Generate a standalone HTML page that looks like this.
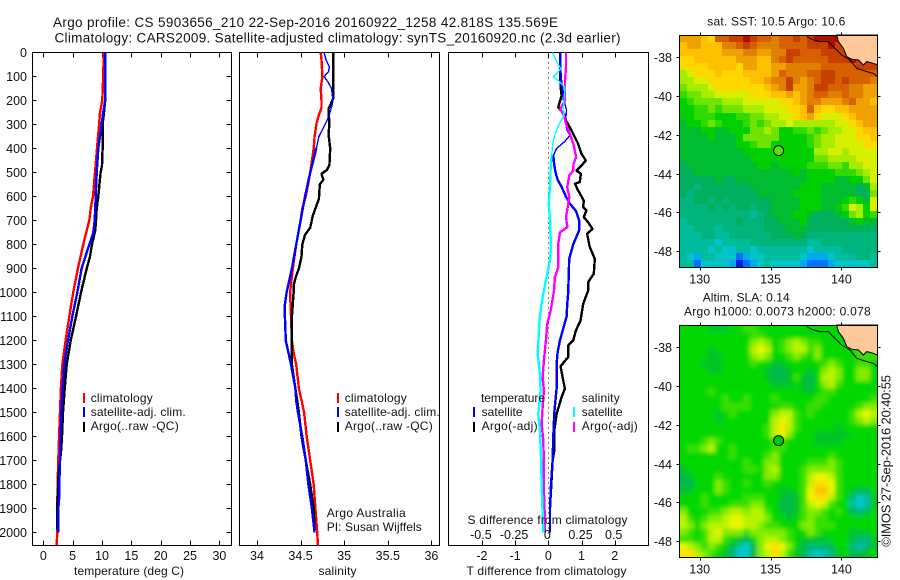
<!DOCTYPE html>
<html lang="en">
<head>
<meta charset="utf-8">
<title>Argo profile CS 5903656_210</title>
<style>
html,body{margin:0;padding:0;background:#fff;}
svg{display:block;font-family:"Liberation Sans",sans-serif;font-size:12px;fill:#000;}
text{fill:#111;}
</style>
</head>
<body>
<svg id="chart" width="900" height="580" viewBox="0 0 900 580" xmlns="http://www.w3.org/2000/svg">
<defs>
<filter id="sla-smooth" filterUnits="userSpaceOnUse" x="660" y="300" width="240" height="280"><feGaussianBlur stdDeviation="2.2"/></filter>
<clipPath id="sla-clip"><rect x="680" y="325" width="198" height="233"/></clipPath>
</defs>
<rect x="0" y="0" width="900" height="580" fill="#fff"/>
<text x="53" y="27" font-size="13.5" textLength="505" lengthAdjust="spacing">Argo profile: CS 5903656_210 22-Sep-2016 20160922_1258 42.818S 135.569E</text>
<text x="54.5" y="42.5" font-size="13.5" textLength="566" lengthAdjust="spacing">Climatology: CARS2009. Satellite-adjusted climatology: synTS_20160920.nc (2.3d earlier)</text>

<g id="layer-cells"></g>
<g id="layer-marks"></g>

<text x="74" y="575" textLength="110" lengthAdjust="spacing">temperature (deg C)</text>
<text x="318.5" y="575" textLength="38" lengthAdjust="spacing">salinity</text>
<text x="466.5" y="575" textLength="160" lengthAdjust="spacing">T difference from climatology</text>
<text x="467.5" y="524" textLength="160" lengthAdjust="spacing">S difference from climatology</text>

<g>
<rect x="83" y="393" width="2" height="10" fill="#f00"/>
<rect x="83" y="407" width="2" height="10" fill="#00f"/>
<rect x="83" y="422" width="2" height="10" fill="#000"/>
<text x="90.7" y="402" textLength="62" lengthAdjust="spacing">climatology</text>
<text x="90.7" y="416" textLength="95" lengthAdjust="spacing">satellite-adj. clim.</text>
<text x="90.7" y="430" textLength="88" lengthAdjust="spacing">Argo(..raw -QC)</text>
</g>
<g>
<rect x="337" y="393" width="2" height="10" fill="#f00"/>
<rect x="337" y="407" width="2" height="10" fill="#00f"/>
<rect x="337" y="422" width="2" height="10" fill="#000"/>
<text x="344.7" y="402" textLength="62" lengthAdjust="spacing">climatology</text>
<text x="344.7" y="416" textLength="95" lengthAdjust="spacing">satellite-adj. clim.</text>
<text x="344.7" y="430" textLength="88" lengthAdjust="spacing">Argo(..raw -QC)</text>
<text x="326.7" y="517" textLength="79" lengthAdjust="spacing">Argo Australia</text>
<text x="326.7" y="531" textLength="95" lengthAdjust="spacing">PI: Susan Wijffels</text>
</g>
<g>
<text x="481" y="402" textLength="64" lengthAdjust="spacing">temperature</text>
<text x="581.7" y="402" textLength="38" lengthAdjust="spacing">salinity</text>
<rect x="473" y="407" width="2" height="10" fill="#00f"/>
<rect x="473" y="422" width="2" height="10" fill="#000"/>
<rect x="573" y="407" width="2" height="10" fill="#0ff"/>
<rect x="573" y="422" width="2" height="10" fill="#f0f"/>
<text x="481.6" y="416" textLength="41" lengthAdjust="spacing">satellite</text>
<text x="481.6" y="430" textLength="56" lengthAdjust="spacing">Argo(-adj)</text>
<text x="581.7" y="416" textLength="41" lengthAdjust="spacing">satellite</text>
<text x="581.7" y="430" textLength="56" lengthAdjust="spacing">Argo(-adj)</text>
</g>

<text x="707.3" y="25.7" textLength="138" lengthAdjust="spacing">sat. SST: 10.5 Argo: 10.6</text>
<text x="702.7" y="301.7" textLength="87" lengthAdjust="spacing">Altim. SLA: 0.14</text>
<text x="684" y="315.7" textLength="186.7" lengthAdjust="spacing">Argo h1000: 0.0073 h2000: 0.078</text>
<text x="0" y="0" transform="translate(890.5,546.7) rotate(-90)" font-size="13" textLength="171.7" lengthAdjust="spacing">©IMOS 27-Sep-2016 20:40:55</text>
</svg>

<script>
// ---- Axis tick values ----
const depthTicks = [0,100,200,300,400,500,600,700,800,900,1000,1100,1200,1300,1400,1500,1600,1700,1800,1900,2000];
const tempTicks = [0,5,10,15,20,25,30];
const salTicks = [34,34.5,35,35.5,36];
const tDiffTicks = [-2,-1,0,1,2];
const sDiffTicks = [-0.5,-0.25,0,0.25,0.5];
const lonTicks = [130,135,140];
const latTicks = [-38,-40,-42,-44,-46,-48];

// ---- Temperature panel series ----
const climTempDepth = [0,100,200,250,300,400,500,600,650,700,800,900,1000,1100,1200,1300,1400,1500,1600,1700,1800,1900,2000,2054];
const climTemp = [10.3,10.2,10.05,9.66,9.5,9.15,8.8,8.47,8.07,7.84,6.8,5.9,5.1,4.43,3.8,3.24,3.0,2.84,2.7,2.56,2.44,2.39,2.39,2.27];
const satTempDepth = [0,100,200,250,300,400,500,600,700,750,800,900,1000,1100,1200,1300,1400,1500,1600,1700,1800,1850,1900,2000];
const satTemp = [10.57,10.57,10.57,10.2,9.94,9.37,9.09,8.92,8.75,8.52,7.84,6.53,5.8,4.94,4.2,3.58,3.3,3.07,2.95,2.84,2.73,2.73,2.56,2.56];
const argoTempDepth = [0,190,250,300,320,400,470,500,550,600,650,700,740,800,850,900,1000,1100,1200,1300,1400,1500,1600,1670,1750,1850,1900,1990];
const argoTemp = [10.57,10.57,10.34,10.1,10.1,10.1,10,9.77,9.55,9.37,9.09,8.98,8.86,8.3,7.95,7.39,6.42,5.57,4.66,3.98,3.64,3.35,3.18,3.0,2.6,2.44,2.39,2.39];

// ---- Salinity panel series ----
const climSalDepth = [0,30,100,150,200,230,260,300,350,400,500,600,650,700,800,900,1000,1100,1200,1250,1300,1400,1500,1600,1700,1800,1900,2000,2054];
const climSal = [34.73,34.74,34.75,34.73,34.74,34.74,34.71,34.68,34.66,34.65,34.61,34.56,34.52,34.5,34.45,34.41,34.38,34.39,34.4,34.42,34.45,34.48,34.54,34.57,34.61,34.65,34.67,34.69,34.7];
const satSalDepth = [0,30,60,80,100,120,150,200,220,270,300,350,400,500,600,700,800,900,1000,1050,1100,1200,1250,1300,1400,1450,1500,1600,1700,1800,1900,2000];
const satSal = [34.77,34.79,34.83,34.82,34.77,34.81,34.855,34.87,34.86,34.82,34.78,34.71,34.68,34.61,34.55,34.5,34.45,34.4,34.34,34.32,34.32,34.33,34.36,34.39,34.44,34.45,34.47,34.52,34.56,34.59,34.63,34.66];
const argoSalDepth = [0,100,190,220,235,300,340,400,470,490,505,530,550,610,640,680,730,760,800,850,900,930,970,1000,1100,1200,1300,1350,1400,1500,1600,1700,1800,1900,1990];
const argoSal = [34.875,34.875,34.875,34.84,34.82,34.83,34.82,34.84,34.83,34.8,34.74,34.76,34.72,34.71,34.68,34.64,34.61,34.55,34.52,34.51,34.48,34.45,34.42,34.42,34.4,34.4,34.4,34.42,34.44,34.48,34.51,34.56,34.61,34.65,34.66];

// ---- Difference panel series ----
const satTDiffDepth = [0,100,200,240,270,290,320,345,370,400,430,470,500,530,560,600,630,660,700,740,800,860,1000,1050,1100,1200,1250,1300,1400,1500,1600,1700,1800,1900,2000];
const satTDiff = [0.36,0.37,0.47,0.55,0.53,0.53,0.55,0.65,0.5,0.25,0.15,0.18,0.22,0.28,0.4,0.53,0.65,0.83,0.93,0.93,0.75,0.63,0.6,0.57,0.55,0.35,0.28,0.25,0.25,0.18,0.15,0.13,0.08,0.05,0.05];
const argoTDiffDepth = [0,100,144,179,228,262,283,325,381,422,450,471,492,505,540,547,575,617,644,658,686,707,735,756,811,860,922,957,992,1047,1117,1158,1200,1221,1269,1290,1308,1353,1401,1436,1506,1575,1658,1700,1900,2000];
const argoTDiff = [0.36,0.36,0.37,0.4,0.3,0.5,0.53,0.7,0.9,1.0,1.13,1.0,0.85,0.98,0.95,0.8,0.9,1.07,1.05,1.15,1.07,1.2,1.33,1.17,1.25,1.4,1.37,1.2,1.2,1.05,0.97,0.83,0.75,0.6,0.6,0.47,0.37,0.43,0.5,0.4,0.25,0.18,0.18,0.13,0.05,0.05];
const satSDiffDepth = [0,33,68,103,117,144,186,228,262,297,339,381,436,478,561,631,700,811,867,922,992,1061,1131,1256,1339,1408,1506,1575,1686,1825,2000];
const satSDiff = [0.033,0.058,0.093,0.038,0.075,0.126,0.12,0.113,0.118,0.083,0.05,0.033,0.025,0.018,0.013,0.003,0.013,0.02,0.013,-0.008,-0.033,-0.055,-0.068,-0.08,-0.063,-0.058,-0.075,-0.063,-0.055,-0.048,-0.038];
const argoSDiffDepth = [0,61,117,158,200,235,262,297,339,381,436,464,492,512,561,603,644,686,728,749,797,894,936,992,1075,1131,1200,1283,1353,1408,1478,1547,1617,1714,1825,1964,2000];
const argoSDiff = [0.133,0.133,0.126,0.126,0.126,0.09,0.118,0.133,0.163,0.188,0.21,0.19,0.188,0.158,0.143,0.158,0.146,0.133,0.143,0.088,0.075,0.075,0.05,0.043,0.018,-0.008,-0.018,-0.033,-0.043,-0.033,-0.043,-0.05,-0.038,-0.033,-0.033,-0.025,-0.025];

// ---- Map data ----
const sstLevels = [
[15,15,15,14,13,17,17,18,18,19,18,17,17,16,17,17,18,17,18,19,19,19,19,19,19,19,19,19],
[14,15,15,14,14,14,16,16,17,18,17,16,16,16,17,17,17,17,18,18,18,19,18,18,18,18,18,18],
[14,14,14,14,14,14,15,15,15,16,16,15,15,16,16,18,18,17,17,17,18,18,18,18,19,18,18,18],
[13,13,14,14,14,14,14,14,15,15,15,14,14,16,17,18,17,17,17,17,17,18,18,18,19,18,18,18],
[13,13,13,13,14,14,14,14,13,15,15,14,14,15,15,16,16,16,16,16,17,17,17,17,17,18,18,18],
[11,12,13,13,13,14,13,13,13,14,14,14,14,15,17,16,16,16,17,17,18,18,17,17,17,17,17,17],
[11,11,12,12,13,13,13,13,13,13,14,14,15,16,16,18,16,15,16,17,18,18,17,18,17,17,17,16],
[10,11,11,11,12,13,13,13,13,13,13,13,14,15,16,18,15,15,16,18,18,17,17,17,16,16,15,15],
[9,10,10,11,11,12,12,12,12,12,13,13,13,14,14,15,14,15,16,17,17,16,16,17,16,16,15,15],
[8,9,10,10,10,10,11,11,11,12,12,12,12,12,13,13,14,15,16,16,15,15,15,16,17,15,15,14],
[8,8,9,9,10,9,10,10,10,11,11,11,12,12,12,13,13,14,17,14,13,13,14,14,15,15,15,15],
[8,8,9,9,9,8,8,8,9,9,10,10,11,11,12,12,13,14,15,13,12,12,12,13,14,15,15,15],
[7,8,8,9,10,9,8,8,8,9,10,9,10,11,11,12,11,11,11,11,11,11,12,12,13,14,15,15],
[7,7,7,8,8,7,7,8,8,8,10,10,11,10,8,8,9,9,10,9,10,11,11,12,12,13,14,14],
[7,7,7,7,8,7,7,7,8,10,10,10,10,10,8,8,8,8,9,10,11,11,12,12,12,13,13,14],
[7,7,7,7,7,7,7,7,8,8,9,10,10,8,8,8,8,8,9,10,11,11,12,12,12,12,13,13],
[7,7,7,7,7,7,7,7,7,8,8,8,8,8,8,8,8,8,8,11,11,12,12,11,12,12,12,12],
[7,7,7,7,7,7,7,7,7,7,8,8,8,8,8,8,8,8,8,10,10,11,11,11,11,12,12,12],
[6,7,7,7,7,7,7,7,7,7,7,8,8,7,8,8,8,8,9,9,9,10,10,9,11,11,12,12],
[6,6,7,7,7,7,7,7,7,7,7,7,7,7,7,7,8,7,8,8,8,8,9,9,9,10,11,12],
[6,6,6,6,6,7,6,6,7,7,7,7,7,7,7,7,7,7,8,8,8,8,7,7,8,8,10,12],
[6,6,5,6,6,6,6,6,6,6,7,7,7,7,7,7,7,8,8,8,7,7,7,7,7,6,7,11],
[6,5,6,6,6,6,6,6,6,6,6,7,7,7,7,7,8,8,8,8,7,7,7,7,7,6,6,10],
[5,5,6,6,5,6,5,6,6,6,6,6,6,7,7,7,7,8,8,8,7,7,7,8,9,8,7,12],
[5,5,5,5,6,5,6,5,6,6,5,6,6,7,7,7,7,8,8,8,7,7,8,9,12,11,8,12],
[5,5,5,5,5,5,5,5,5,5,4,5,6,7,7,7,8,8,7,6,6,6,7,8,10,11,8,9],
[4,5,5,5,5,5,5,5,6,5,5,5,6,6,7,7,7,8,6,6,6,6,6,6,7,8,7,7],
[4,4,5,5,5,4,5,5,5,5,5,5,6,6,6,7,7,7,6,6,6,6,6,6,6,6,6,6],
[4,4,4,5,5,4,4,5,5,5,5,5,5,6,6,6,7,6,5,5,5,5,5,5,5,5,5,5],
[4,4,4,4,4,3,4,4,4,4,5,5,5,5,5,5,5,5,4,4,5,5,5,5,5,5,5,5],
[4,4,4,4,3,4,3,3,4,4,3,4,4,4,4,4,4,4,3,4,4,4,4,5,5,5,5,5],
[4,3,2,4,4,3,3,3,1,2,3,3,4,4,4,4,4,3,2,2,2,3,4,4,4,5,5,4],
[4,4,1,3,3,3,3,2,0,1,2,3,4,3,3,3,3,2,1,1,1,2,3,3,3,3,3,4]
];
const slaLevels = [
[8,8,8,8,7,7,7,8,8,9,9,8,8,8,8,8,8,8,8,8,8,8,8,8,8,8,8,8],
[8,8,8,8,8,8,8,8,8,8,9,9,8,8,8,8,8,8,8,8,8,8,8,8,8,8,8,8],
[8,8,8,8,8,8,8,8,8,8,10,11,10,8,9,10,11,10,9,9,8,8,8,8,8,8,8,8],
[8,8,8,8,7,8,8,8,8,8,11,12,11,8,9,10,11,11,9,10,8,8,8,8,8,9,9,8],
[8,8,8,8,7,7,8,8,8,8,10,11,10,8,8,9,10,9,8,10,8,8,8,8,8,9,9,9],
[8,8,8,7,7,7,8,8,8,8,9,8,8,7,7,8,8,8,8,8,9,10,9,8,8,9,9,8],
[8,8,8,8,7,7,8,8,8,8,8,8,7,6,6,7,8,8,7,8,10,11,10,8,8,10,10,8],
[8,8,8,8,8,8,8,8,8,8,8,8,7,6,6,7,9,7,6,8,11,11,10,8,8,10,10,8],
[8,8,8,8,8,8,8,8,8,8,8,8,8,7,7,7,8,7,6,8,10,11,9,8,8,8,8,8],
[8,8,8,8,9,8,8,8,8,8,8,8,8,8,8,8,8,7,7,8,9,9,8,8,8,8,8,8],
[8,8,8,8,8,8,9,8,8,9,8,8,8,9,8,8,8,8,8,9,9,8,8,8,8,8,8,9],
[8,8,8,8,8,8,9,9,9,9,8,8,8,8,9,9,8,8,9,9,8,8,8,8,8,9,10,10],
[8,8,8,8,8,7,8,9,8,8,8,8,8,10,11,11,9,8,9,8,8,8,8,8,9,11,12,11],
[8,8,8,8,8,7,8,8,8,8,8,8,8,11,12,11,9,8,8,8,8,8,8,8,9,10,11,10],
[8,8,8,8,8,8,8,8,8,8,8,8,9,11,13,11,9,8,8,8,8,8,7,8,8,8,8,8],
[8,8,8,8,8,8,8,8,8,8,8,8,9,11,12,10,8,8,8,7,7,7,7,7,8,8,8,8],
[8,8,8,9,10,9,8,8,8,8,8,8,8,9,9,8,8,8,8,7,7,7,7,8,8,8,8,8],
[8,9,9,10,11,8,8,9,8,8,8,8,8,9,9,8,8,8,8,8,8,8,8,8,8,8,8,8],
[8,8,8,8,8,8,8,9,8,8,8,8,9,10,8,8,8,8,8,8,8,9,8,8,8,8,8,8],
[8,8,8,8,8,8,8,8,8,9,8,8,10,10,8,8,8,8,9,9,9,10,9,8,8,8,8,8],
[7,8,8,8,8,8,8,8,8,9,9,8,10,11,8,8,8,9,10,10,10,10,9,8,8,8,8,8],
[6,7,8,8,8,9,8,8,8,8,8,8,10,10,8,8,8,9,11,12,12,11,9,8,8,8,8,8],
[6,6,8,8,8,10,9,8,8,9,8,8,9,8,8,8,8,9,11,13,13,12,9,8,8,8,8,8],
[7,7,8,8,8,10,9,8,8,8,8,8,8,8,7,7,8,9,12,14,14,12,9,8,7,6,6,8],
[8,8,8,9,8,8,8,8,8,9,9,9,8,8,7,6,7,9,12,13,13,11,9,8,5,3,4,7],
[8,8,8,9,8,8,8,9,9,9,10,10,8,8,6,6,7,9,11,12,11,9,8,8,4,3,4,7],
[10,8,8,8,9,9,10,11,11,10,11,11,9,8,7,6,7,9,10,10,9,8,9,8,6,5,6,8],
[11,9,8,9,10,10,11,12,12,11,11,11,10,8,8,7,8,9,10,9,9,8,8,8,8,8,8,8],
[11,10,8,10,11,11,11,12,12,11,11,10,9,9,8,8,8,10,10,9,9,9,8,8,8,8,8,8],
[10,9,8,9,11,12,10,10,10,9,10,10,10,10,10,9,8,8,10,9,8,8,8,8,7,7,7,8],
[9,9,8,9,11,11,9,8,7,6,8,10,11,11,10,9,8,7,7,7,7,8,8,8,6,5,5,7],
[12,11,10,9,10,9,8,6,4,3,6,10,12,13,12,10,8,6,5,5,5,6,8,8,5,4,5,7],
[13,13,11,10,9,8,7,5,3,3,6,10,11,13,11,9,7,6,4,3,4,5,7,8,6,6,7,8]
];
const landLon = [139.67,139.79,140.14,140.38,140.73,141.2,141.55,141.79,142.26,142.55,142.55];
const landLat = [-36.85,-37.19,-37.54,-37.97,-38.1,-38.14,-38.4,-38.22,-38.31,-38.4,-36.85];
const coastLon = [137.55,138.02,138.49,139.08,139.55,140.02,140.61,141.08,141.79,142.26,142.55];
const coastLat = [-36.93,-37.1,-37.19,-37.19,-37.54,-37.88,-38.14,-38.57,-38.74,-38.83,-39.0];
const profileLon = 135.569;
const profileLat = -42.818;
const sstColorScale = ['#0020e0','#0070ff','#00a8f0','#00c4c8','#00bc9c','#00b47c','#00b05c','#00bc30','#00d000','#30dc00','#70e400','#a8ec00','#d8f000','#ffd800','#ffc000','#f0a000','#e08000','#d86000','#c84000','#b01000'];
const slaColorScale = ['#0020e0','#0070ff','#00a8f0','#00c8c8','#00c0a0','#00b878','#00b850','#00c428','#00d800','#38e000','#80ec00','#b8f400','#e8f800','#ffe000','#ffc000','#f0a000','#e08000','#d86000','#c84000','#b01000'];

const NS = 'http://www.w3.org/2000/svg';
const cellLayer = document.getElementById('layer-cells');
const markLayer = document.getElementById('layer-marks');

function make(tag, attrs, parent, txt) {
  const n = document.createElementNS(NS, tag);
  for (const k in attrs) n.setAttribute(k, attrs[k]);
  if (txt !== undefined) n.textContent = txt;
  (parent || markLayer).appendChild(n);
  return n;
}

// ---- Axis functions ----
const yDepth = d => 52.5 + d * 0.24;
const xTemp = t => 43.3 + t * 5.87;
const xSal = s => 257 + (s - 34) * 87.2;
const xTDiff = t => 548.3 + t * 33.2;
const xSDiff = s => 548.3 + s * 132.8;
const xLon = lon => 699.7 + (lon - 130) * 14.17;
const yLatTop = lat => 57.3 + (-38 - lat) * 19.37;
const yLatBottom = lat => 347.3 + (-38 - lat) * 19.37;

const panelTop = 52.5;
const panelBottom = 545.5;

function drawPolyline(depths, values, xf, color, width, seriesName) {
  const pts = values.map((v, i) => xf(v).toFixed(1) + ',' + yDepth(depths[i]).toFixed(1)).join(' ');
  const line = make('polyline', {points: pts, fill: 'none', stroke: color, 'stroke-width': width, 'shape-rendering': 'crispEdges', 'stroke-linejoin': 'round'});
  
  
}

// A series is drawn heavy, with an optional thin stretch between two depths.
function drawSeries(depths, values, xf, color, seriesName, thinFrom, thinTo) {
  if (thinFrom === undefined) {
    drawPolyline(depths, values, xf, color, 2.4, seriesName);
    return;
  }
  const idxA = depths.findIndex(d => d >= thinFrom);
  const idxB = depths.findIndex(d => d >= thinTo);
  if (idxA > 0) drawPolyline(depths.slice(0, idxA + 1), values.slice(0, idxA + 1), xf, color, 2.4, seriesName);
  drawPolyline(depths.slice(idxA, idxB + 1), values.slice(idxA, idxB + 1), xf, color, 1.4, seriesName + '-thin');
  drawPolyline(depths.slice(idxB), values.slice(idxB), xf, color, 2.4, seriesName);
}

function drawPanelFrame(left, right, xTicksList, xf, labelFn, leftTicks) {
  const frame = make('rect', {x: left, y: panelTop, width: right - left, height: panelBottom - panelTop, fill: 'none', stroke: '#000', 'stroke-width': 1, 'shape-rendering': 'crispEdges'});
  
  
  xTicksList.forEach(v => {
    const px = Math.round(xf(v)) + 0.5;
    const topTick = make('line', {x1: px, x2: px, y1: panelTop, y2: panelTop + 5, stroke: '#000', 'shape-rendering': 'crispEdges'});
    
    
    const bottomTick = make('line', {x1: px, x2: px, y1: panelBottom, y2: panelBottom - 5, stroke: '#000', 'shape-rendering': 'crispEdges'});
    
    
    const label = make('text', {x: xf(v), y: 560, 'text-anchor': 'middle', 'font-size': 12.5}, markLayer, labelFn(v));
    
    
  });
  if (leftTicks) {
    depthTicks.forEach(d => {
      const py = Math.round(yDepth(d) - 0.5) + 0.5;
      const lt = make('line', {x1: left, x2: left + 4, y1: py, y2: py, stroke: '#000', 'shape-rendering': 'crispEdges'});
      
      
      const rt = make('line', {x1: right, x2: right - 5, y1: py, y2: py, stroke: '#000', 'shape-rendering': 'crispEdges'});
      
      
      const dl = make('text', {x: 27, y: py + 4.5, 'text-anchor': 'end', 'font-size': 12.5}, markLayer, String(d));
      
      
    });
  }
}

// ---- Profile panels ----
drawPanelFrame(32.5, 231.5, tempTicks, xTemp, v => String(v), true);
drawPanelFrame(239.5, 439.5, salTicks, xSal, v => String(v), false);
drawPanelFrame(448.5, 648.5, tDiffTicks, xTDiff, v => String(v), false);

drawSeries(climTempDepth, climTemp, xTemp, '#f00', 'temperature-climatology-line');
drawSeries(argoTempDepth, argoTemp, xTemp, '#000', 'temperature-argo-line');
drawSeries(satTempDepth, satTemp, xTemp, '#00f', 'temperature-satellite-line');

drawSeries(climSalDepth, climSal, xSal, '#f00', 'salinity-climatology-line');
drawSeries(argoSalDepth, argoSal, xSal, '#000', 'salinity-argo-line');
drawSeries(satSalDepth, satSal, xSal, '#00f', 'salinity-satellite-line', 0, 400);

const zeroLine = make('line', {x1: 548.5, x2: 548.5, y1: panelTop, y2: panelBottom, stroke: '#000', 'stroke-width': 1, 'stroke-dasharray': '1 4', 'shape-rendering': 'crispEdges'});


drawSeries(argoTDiffDepth, argoTDiff, xTDiff, '#000', 't-difference-argo-line');
drawSeries(satTDiffDepth, satTDiff, xTDiff, '#00f', 't-difference-satellite-line', 200, 430);
drawSeries(argoSDiffDepth, argoSDiff, xSDiff, '#f0f', 's-difference-argo-line');
drawSeries(satSDiffDepth, satSDiff, xSDiff, '#0ff', 's-difference-satellite-line', 0, 430);

sDiffTicks.forEach(v => {
  const lab = make('text', {x: xSDiff(v) - 1, y: 539, 'text-anchor': 'middle', 'font-size': 12.5}, markLayer, String(v));
  
  
});

// ---- Maps ----
const mapLeft = 679.5, mapRight = 877.5;
const lonAtLeft = 130 + (mapLeft - 699.7) / 14.17;
const lonAtRight = 130 + (mapRight - 699.7) / 14.17;
const latNorth = -36.85, latSouth = -48.85;

function drawMap(levels, yLat, fillColor, cellName, scale, smooth) {
  const rows = levels.length;
  const dLat = (latSouth - latNorth) / rows;
  let cellParent = cellLayer;
  if (smooth) {
    const clipGroup = make('g', {'clip-path': 'url(#sla-clip)'}, cellLayer);
    
    
    cellParent = make('g', {filter: 'url(#sla-smooth)'}, clipGroup);
    
    
  }
  const pad = smooth ? 9 : 0;
  levels.forEach((row, r) => {
    const dLon = (lonAtRight - lonAtLeft) / row.length;
    row.forEach((lvl, c) => {
      let x0 = Math.round(xLon(lonAtLeft + c * dLon));
      let x1 = Math.round(xLon(lonAtLeft + (c + 1) * dLon));
      let y0 = Math.round(yLat(latNorth + r * dLat));
      let y1 = Math.round(yLat(latNorth + (r + 1) * dLat));
      if (c === 0) x0 -= pad;
      if (c === row.length - 1) x1 += pad;
      if (r === 0) y0 -= pad;
      if (r === rows - 1) y1 += pad;
      const cell = make('rect', {x: x0, y: y0, width: x1 - x0, height: y1 - y0, fill: scale[lvl], 'shape-rendering': 'crispEdges'}, cellParent);
      
      
    });
  });

  const land = make('polygon', {points: landLon.map((lo, i) => xLon(lo).toFixed(1) + ',' + yLat(landLat[i]).toFixed(1)).join(' '), fill: '#ffc898', stroke: '#000', 'stroke-width': 1}, cellLayer);
  
  
  const coast = make('polyline', {points: coastLon.map((lo, i) => xLon(lo).toFixed(1) + ',' + yLat(coastLat[i]).toFixed(1)).join(' '), fill: 'none', stroke: '#000', 'stroke-width': 1}, cellLayer);
  
  

  const marker = make('circle', {cx: xLon(profileLon), cy: yLat(profileLat), r: 5, fill: fillColor, stroke: '#000', 'stroke-width': 1});
  
  

  const top = Math.round(yLat(latNorth)) + 0.5;
  const bottom = Math.round(yLat(latSouth)) + 0.5;
  const frame = make('rect', {x: mapLeft, y: top, width: mapRight - mapLeft, height: bottom - top, fill: 'none', stroke: '#000', 'shape-rendering': 'crispEdges'});
  
  

  lonTicks.forEach(lo => {
    const px = Math.round(xLon(lo)) + 0.5;
    const t1 = make('line', {x1: px, x2: px, y1: top - 3, y2: top, stroke: '#000', 'shape-rendering': 'crispEdges'});
    
    
    const t2 = make('line', {x1: px, x2: px, y1: bottom, y2: bottom + 3, stroke: '#000', 'shape-rendering': 'crispEdges'});
    
    
    const lab = make('text', {x: xLon(lo), y: bottom + 16, 'text-anchor': 'middle', 'font-size': 12.5}, markLayer, String(lo));
    
    
  });
  latTicks.forEach(la => {
    const py = Math.round(yLat(la)) + 0.5;
    const t1 = make('line', {x1: mapLeft - 3, x2: mapLeft, y1: py, y2: py, stroke: '#000', 'shape-rendering': 'crispEdges'});
    
    
    const t2 = make('line', {x1: mapRight, x2: mapRight + 3, y1: py, y2: py, stroke: '#000', 'shape-rendering': 'crispEdges'});
    
    
    const lab = make('text', {x: 672, y: py + 4.5, 'text-anchor': 'end', 'font-size': 12.5}, markLayer, String(la));
    
    
  });
}

drawMap(sstLevels, yLatTop, '#58e000', 'sst-cell', sstColorScale, false);
drawMap(slaLevels, yLatBottom, '#00c800', 'sla-cell', slaColorScale, true);
</script>
</body>
</html>
